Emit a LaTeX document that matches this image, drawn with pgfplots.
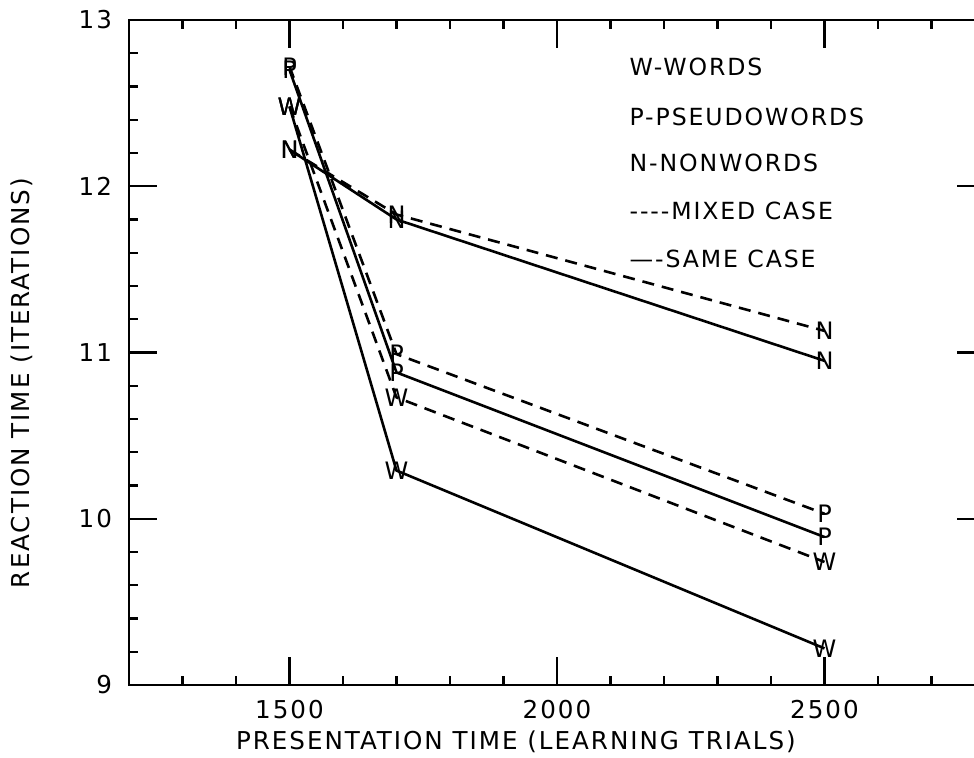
\documentclass[border=0pt]{standalone}
\usepackage{fontspec}
\setmainfont{DejaVu Sans}[LetterSpace=8]
\usepackage{pgfplots}
\pgfplotsset{compat=1.18}
\usetikzlibrary{plotmarks}

\begin{document}
\begin{tikzpicture}
\begin{axis}[
  width=428pt, height=332.5pt, scale only axis,
  xmin=1200, xmax=2800, ymin=9, ymax=13,
  xtick={1500,2000,2500},
  minor xtick={1200,1300,...,2800},
  ytick={9,10,11,12,13},
  minor ytick={9.2,9.4,...,12.9},
  tick align=inside,
  major tick length=14pt, minor tick length=4.5pt,
  axis line style={line width=1.3pt},
  every tick/.style={black, line width=1.1pt},
  /pgf/number format/assume math mode=true,
  /pgf/number format/1000 sep={},
  tick label style={font=\fontsize{12.3}{14}\selectfont},
  xticklabel style={yshift=-4pt},
  yticklabel style={xshift=-5pt},
  xlabel={PRESENTATION TIME (LEARNING TRIALS)},
  ylabel={REACTION TIME (ITERATIONS)},
  every axis x label/.style={at={(axis description cs:0.452,-0.086)}, anchor=center,
    font=\fontsize{12.3}{14}\selectfont},
  every axis y label/.style={at={(axis description cs:-0.125,0.454)}, rotate=90, anchor=center,
    font=\fontsize{12.3}{14}\selectfont},
  text mark as node=true,
  text mark style={font=\fontsize{12}{12}\selectfont, inner sep=0pt},
  clip=false,
]
% same case (solid)
\addplot[black, line width=1.3pt, mark=text, text mark=W] coordinates {
  (1500,12.48) (1700,10.29) (2500,9.22)};
\addplot[black, line width=1.3pt, mark=text, text mark=P] coordinates {
  (1500,12.70) (1700,10.88) (2500,9.89)};
\addplot[black, line width=1.3pt, mark=text, text mark=N] coordinates {
  (1500,12.22) (1700,11.80) (2500,10.95)};
% mixed case (dashed)
\addplot[black, line width=1.3pt, dash pattern=on 6pt off 4pt, mark options={solid}, mark=text, text mark=W] coordinates {
  (1500,12.48) (1700,10.73) (2500,9.74)};
\addplot[black, line width=1.3pt, dash pattern=on 6pt off 4pt, mark options={solid}, mark=text, text mark=P] coordinates {
  (1500,12.72) (1700,10.99) (2500,10.03)};
\addplot[black, line width=1.3pt, dash pattern=on 6pt off 4pt, mark options={solid}, mark=text, text mark=N] coordinates {
  (1500,12.22) (1700,11.83) (2500,11.13)};

\coordinate (sw) at (rel axis cs:0,0);
\coordinate (nw) at (rel axis cs:0,1);
\begin{scope}[every node/.style={anchor=west, inner sep=0pt, font=\fontsize{11.8}{13}\selectfont}]
\node at (axis cs:2135,12.72) {W-WORDS};
\node at (axis cs:2135,12.42) {P-PSEUDOWORDS};
\node at (axis cs:2135,12.14) {N-NONWORDS};
\node at (axis cs:2135,11.85) {{-}{-}{-}{-}MIXED CASE};
\node at (axis cs:2135,11.56) {—{-}SAME CASE};
\end{scope}
\end{axis}
\pgfresetboundingbox
\path[use as bounding box] ([shift={(-64.5pt,-36.5pt)}]sw) rectangle ([shift={(422.5pt,10pt)}]nw);
\end{tikzpicture}
\end{document}
